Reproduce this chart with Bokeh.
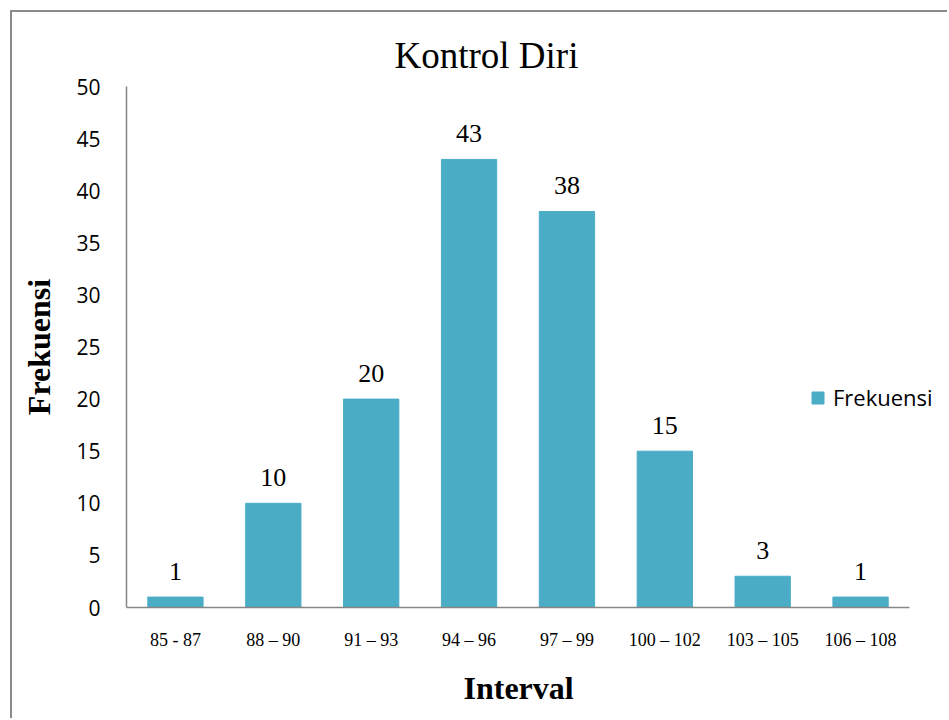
from bokeh.plotting import figure
from bokeh.models import ColumnDataSource, Legend, LegendItem, Range1d, Title
from bokeh.core.properties import value
from bokeh.embed import file_html
from bokeh.resources import INLINE

categories = ["85 - 87", "88 – 90", "91 – 93", "94 – 96", "97 – 99", "100 – 102", "103 – 105", "106 – 108"]
frekuensi = [1, 10, 20, 43, 38, 15, 3, 1]
y_ticks = [0, 5, 10, 15, 20, 25, 30, 35, 40, 45, 50]

SERIF = "Liberation Serif"
SANS = "Open Sans"
BAR = "#4BACC6"
AXIS = "#868686"

positions = list(range(1, len(categories) + 1))
src = ColumnDataSource(dict(x=positions, val=frekuensi, lab=[str(v) for v in frekuensi]))

# frame: 823 px wide, 8 category slots of 97.875 px, remainder holds legend
p = figure(width=937, height=708, output_backend="svg", toolbar_location=None,
           x_range=Range1d(0.5, 0.5 + 823 / 97.875),
           y_range=Range1d(0, 50),
           min_border_left=114, min_border_top=74, min_border_right=0, min_border_bottom=112,
           title="Kontrol Diri")
p.styles = {"margin-left": "10px", "margin-top": "10px",
            "border-left": "2px solid #8a8a8a", "border-top": "2px solid #8a8a8a"}

p.title.text_font = SERIF
p.title.text_font_size = "37px"
p.title.text_font_style = "normal"
p.title.text_color = "black"
p.title.align = "left"
p.title.offset = 268
p.title.standoff = 22

r = p.vbar(x="x", top="val", width=0.565, source=src, fill_color=BAR, line_color=BAR)
p.text(x="x", y="val", text="lab", source=src, text_font=value(SERIF), text_font_size="26px",
       text_align="center", text_baseline="alphabetic", y_offset=-26, text_color="black")

p.outline_line_color = None
p.grid.grid_line_color = None
p.background_fill_color = "white"
p.border_fill_color = "white"

p.yaxis.ticker = y_ticks
p.yaxis.major_label_text_font = SANS
p.yaxis.major_label_text_font_size = "21px"
p.yaxis.major_label_text_color = "black"
p.yaxis.major_label_standoff = 26
p.yaxis.axis_label = "Frekuensi"
p.yaxis.axis_label_text_font = SERIF
p.yaxis.axis_label_text_font_size = "32px"
p.yaxis.axis_label_text_font_style = "bold"
p.yaxis.axis_label_text_color = "black"
p.yaxis.axis_label_standoff = 16

p.xaxis.ticker = positions
p.xaxis.major_label_overrides = {pos: cat for pos, cat in zip(positions, categories)}
p.xaxis.bounds = (0.5, len(categories) + 0.5)
p.xaxis.major_label_text_font = SERIF
p.xaxis.major_label_text_font_size = "18px"
p.xaxis.major_label_text_color = "black"
p.xaxis.major_label_standoff = 22

# x axis title, centred under the axis line (which is shorter than the frame)
p.add_layout(Title(text="Interval", align="left", offset=337, standoff=30,
                   text_font=SERIF, text_font_size="32px", text_font_style="bold",
                   text_color="black"), "below")

for ax in (p.xaxis, p.yaxis):
    ax.axis_line_color = AXIS
    ax.axis_line_width = 1.5
    ax.major_tick_line_color = None
    ax.minor_tick_line_color = None
    ax.major_tick_in = 0
    ax.major_tick_out = 0

legend = Legend(items=[LegendItem(label="Frekuensi", renderers=[r])], location=(684, 195),
                glyph_width=15, glyph_height=15, label_standoff=8, padding=0, margin=0,
                border_line_color=None, background_fill_alpha=0,
                label_text_font=SANS, label_text_font_size="22px", label_text_color="black")
p.add_layout(legend, "center")

open("out.html", "w").write(file_html(p, INLINE))
